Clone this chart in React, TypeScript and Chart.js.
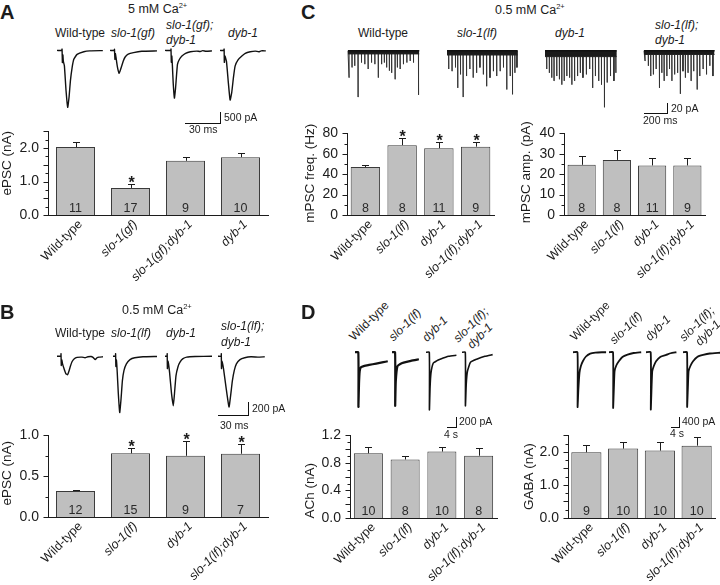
import React, { useEffect, useRef } from "react";
import { Chart, registerables } from "chart.js";

Chart.register(...registerables);

const FONT = "'Liberation Sans', Arial, Helvetica, sans-serif";
const INK = "#1c1c1c";
const BAR_FILL = "#bfbfbf";
const BAR_EDGE = "#3a3a3a";

// ---------------- bar data ----------------
const gfCategories = ["Wild-type", "slo-1(gf)", "slo-1(gf);dyb-1", "dyb-1"];
const lfCategories = ["Wild-type", "slo-1(lf)", "dyb-1", "slo-1(lf);dyb-1"];

const aEpscNa = [2.03, 0.81, 1.62, 1.73];
const aEpscSem = [0.14, 0.13, 0.11, 0.11];
const aN = [11, 17, 9, 10];
const aSig = [false, true, false, false];
const aYTicks = [0, 0.5, 1.0, 1.5, 2.0, 2.5];

const bEpscNa = [0.32, 0.78, 0.75, 0.775];
const bEpscSem = [0.012, 0.07, 0.18, 0.115];
const bN = [12, 15, 9, 7];
const bSig = [false, true, true, true];
const bYTicks = [0, 0.5, 1.0];

const cFreqHz = [47, 68.5, 65.5, 67];
const cFreqSem = [2.2, 7, 6.5, 4.5];
const cFreqSig = [false, true, true, true];
const cFreqTicks = [0, 20, 40, 60, 80];
const cAmpPa = [24.6, 27, 24.3, 24.3];
const cAmpSem = [4.4, 4.7, 3.5, 3.7];
const cAmpSig = [false, false, false, false];
const cAmpTicks = [0, 10, 20, 30, 40];
const cN = [8, 8, 11, 9];

const dAchNa = [0.94, 0.85, 0.965, 0.905];
const dAchSem = [0.095, 0.045, 0.065, 0.105];
const dAchN = [10, 8, 10, 8];
const dAchTicks = [0, 0.2, 0.4, 0.6, 0.8, 1.0, 1.2];
const dGabaNa = [1.99, 2.1, 2.04, 2.19];
const dGabaSem = [0.22, 0.21, 0.26, 0.25];
const dGabaN = [9, 10, 10, 10];
const dGabaTicks = [0, 0.5, 1.0, 1.5, 2.0, 2.5];
const noSig = [false, false, false, false];

// ---------------- trace data: [time, current] ----------------
// A: ms, pA
const aTraceWT: [number, number][] = [[0, 0], [4, 0], [4.3, 60], [4.6, -550], [5.0, -200], [5.4, -500], [6.3, -700], [7.7, -1830], [9.1, -2580], [10.3, -2100], [11.4, -1380], [12.8, -800], [14.3, -405], [17.1, -180], [22.8, -60], [28, -20], [39, -10]];
const aTraceGF: [number, number][] = [[0, 0], [3.5, 0], [3.8, 50], [4.2, -400], [4.6, -150], [5.2, -350], [6.3, -750], [7.7, -1035], [8.8, -900], [10, -700], [11.3, -480], [12.9, -300], [15.5, -170], [20, -100], [27, -40], [40, -20]];
const aTraceGFdyb: [number, number][] = [[0, 0], [4.9, 0], [5.1, 60], [5.4, -540], [5.8, -250], [6.3, -700], [7.0, -1500], [8.0, -2160], [9.0, -1700], [10.6, -630], [12.3, -400], [14.4, -255], [17.5, -130], [21.6, -60], [27, -30], [30, -50], [32, -10], [35, -40], [40, -20]];
const aTraceDyb: [number, number][] = [[0, 0], [3.2, 0], [3.5, 60], [3.7, -540], [4.2, -250], [5.5, -500], [7.0, -1400], [8.6, -2250], [10, -1900], [11.5, -1200], [12.9, -700], [15.5, -420], [18.6, -255], [21.5, -130], [25.7, -60], [30, -30], [33, -60], [35, -20], [39, -20]];

// B: ms, pA
const bTraceWT: [number, number][] = [[0, 0], [3.8, 0], [4.0, 40], [4.3, -150], [4.8, -60], [5.5, -120], [7, -200], [8.8, -280], [10.6, -300], [12, -240], [13.3, -167], [15, -90], [17.3, -42], [20, -20], [25, -15], [28, -25], [31, -10], [34, -5], [36, -20], [38.3, -55], [40, -25], [42, -15], [46, -10]];
const bTraceLF: [number, number][] = [[0, 0], [2.4, 0], [2.6, 40], [2.9, -167], [3.4, -60], [4.2, -250], [5.3, -600], [6.7, -910], [8, -700], [9.4, -395], [11, -230], [13.4, -124], [17, -55], [21.7, -26], [30, -10], [44, -5]];
const bTraceDyb: [number, number][] = [[0, 0], [2.0, 0], [2.2, 40], [2.4, -200], [3.0, -80], [4.5, -250], [6.5, -600], [8.3, -800], [9.5, -600], [11, -314], [13, -170], [15, -96], [18, -40], [21.7, -15], [30, -5], [47, 0]];
const bTraceLFdyb: [number, number][] = [[0, 0], [3.1, 0], [3.3, 40], [3.5, -200], [4.1, -80], [5.5, -200], [8, -500], [11, -820], [12.6, -640], [14.4, -395], [16.3, -230], [18.4, -124], [22, -55], [26.7, -26], [33, -10], [40, -15], [46.7, -10]];

// C: minis, event time (ms) and amplitude (pA)
const cWTTimes = [9, 35, 59, 88, 118, 147, 176, 206, 235, 265, 294, 318, 338, 362, 382, 412, 432, 456, 485, 515, 544, 573, 617];
const cWTAmps = [50, 31, 28, 86, 22, 25, 34, 22, 25, 50, 25, 22, 31, 37, 41, 53, 31, 34, 25, 22, 19, 22, 82];
const cLFTimes = [15, 44, 74, 94, 118, 141, 171, 200, 229, 259, 288, 318, 347, 376, 406, 435, 465, 494, 523, 553, 573, 594, 612];
const cLFAmps = [34, 38, 31, 69, 44, 86, 47, 34, 50, 41, 31, 44, 66, 50, 38, 47, 38, 31, 72, 47, 81, 41, 31];
const cDybTimes = [15, 38, 59, 79, 103, 126, 147, 168, 191, 215, 235, 259, 285, 309, 332, 362, 391, 417, 441, 470, 494, 520, 544, 573, 603, 620];
const cDybAmps = [34, 41, 50, 56, 47, 53, 63, 56, 47, 50, 63, 56, 47, 41, 50, 44, 34, 69, 47, 56, 63, 105, 59, 47, 56, 41];
const cLFdybTimes = [9, 38, 59, 82, 106, 135, 156, 176, 200, 223, 244, 268, 294, 318, 341, 362, 385, 412, 435, 465, 488, 517, 547, 576, 603];
const cLFdybAmps = [19, 28, 47, 44, 34, 69, 41, 56, 47, 34, 56, 44, 41, 80, 38, 50, 41, 56, 38, 72, 47, 34, 44, 28, 47];
const cTraceLengthMs = [623, 617, 626, 617];
const cNoiseBandPa = [6, 8, 11, 7];

// D: s, pA
const dAchWT: [number, number][] = [[0, 0], [1.4, 0], [1.45, -1210], [1.7, -700], [2.0, -420], [2.5, -330], [4, -300], [6, -280], [9, -250], [12, -220], [13.9, -200]];
const dAchLF: [number, number][] = [[0, 0], [1.3, 0], [1.35, -1185], [1.6, -650], [2.3, -311], [3.5, -260], [4.9, -230], [8, -190], [11.4, -155]];
const dAchDyb: [number, number][] = [[0, 0], [1.4, 0], [1.45, -1273], [1.7, -800], [2.1, -460], [3.1, -237], [4.5, -190], [6, -155], [9.6, -89], [12.9, -67]];
const dAchLFdyb: [number, number][] = [[0, 0], [1.4, 0], [1.45, -1185], [1.8, -700], [2.3, -420], [3.6, -222], [6.2, -155], [9.7, -89], [13, -52]];
const dGabaWT: [number, number][] = [[0, 0], [2.0, 0], [2.05, -2190], [2.4, -1500], [2.9, -827], [3.5, -560], [4.4, -360], [5.8, -170], [7.7, -53], [10, -15], [12.9, 0], [14.8, 0]];
const dGabaLF: [number, number][] = [[0, 0], [1.8, 0], [1.85, -2227], [2.2, -1400], [2.5, -760], [3.3, -520], [4.4, -360], [6, -190], [8.3, -93], [11, -30], [14.4, 0]];
const dGabaDyb: [number, number][] = [[0, 0], [2.1, 0], [2.15, -2293], [2.5, -1400], [2.8, -760], [3.5, -550], [4.5, -360], [6.5, -180], [9, -107], [11, -40], [13.6, 0]];
const dGabaLFdyb: [number, number][] = [[0, 0], [1.8, 0], [1.85, -2187], [2.2, -1400], [2.5, -760], [3.3, -550], [4.5, -360], [6.5, -180], [9, -107], [12, -50], [16.6, -20]];

// ---------------- components ----------------
const AXW = 48, PADT = 14, PADR = 10, XAH = 82;

type BarProps = {
  left: number; top: number; width: number; height: number;
  categories: string[]; values: number[]; sem: number[]; n: number[]; sig: boolean[];
  yTicks: number[]; decimals: number; yTitle: string; titleDx: number; titleDy: number; barPct: number;
};

function BarChart(p: BarProps) {
  const ref = useRef<HTMLCanvasElement>(null);
  useEffect(() => {
    const canvas = ref.current!;
    const yMax = p.yTicks[p.yTicks.length - 1];
    const overlay = {
      id: "overlay",
      afterDatasetsDraw(chart: any) {
        const ctx = chart.ctx;
        const ys = chart.scales.y;
        const meta = chart.getDatasetMeta(0);
        ctx.save();
        ctx.strokeStyle = INK;
        ctx.fillStyle = INK;
        ctx.lineWidth = 1;
        meta.data.forEach((bar: any, i: number) => {
          const x = Math.round(bar.x) + 0.5;
          const yTop = ys.getPixelForValue(p.values[i]);
          const yCap = Math.round(ys.getPixelForValue(p.values[i] + p.sem[i])) + 0.5;
          ctx.beginPath();
          ctx.moveTo(x, yTop);
          ctx.lineTo(x, yCap);
          ctx.moveTo(x - 3.5, yCap);
          ctx.lineTo(x + 3.5, yCap);
          ctx.stroke();
          if (p.sig[i]) {
            ctx.font = `bold 16px ${FONT}`;
            ctx.textAlign = "center";
            ctx.textBaseline = "alphabetic";
            ctx.fillText("*", x, yCap + 3);
          }
          ctx.font = `12.5px ${FONT}`;
          ctx.textAlign = "center";
          ctx.textBaseline = "middle";
          ctx.fillStyle = "#2a2a2a";
          ctx.fillText(String(p.n[i]), bar.x, ys.getPixelForValue(0) - 6.5);
          ctx.fillStyle = INK;
        });
        ctx.restore();
      },
      afterDraw(chart: any) {
        const ctx = chart.ctx;
        const ys = chart.scales.y;
        const area = chart.chartArea;
        ctx.save();
        ctx.strokeStyle = INK;
        ctx.lineWidth = 1;
        const xl = Math.round(area.left) + 0.5;
        p.yTicks.forEach((v, k) => {
          const y = Math.round(ys.getPixelForValue(v)) + 0.5;
          ctx.beginPath();
          ctx.moveTo(xl - 5, y);
          ctx.lineTo(xl, y);
          ctx.stroke();
          if (k < p.yTicks.length - 1) {
            const m = Math.round(ys.getPixelForValue((v + p.yTicks[k + 1]) / 2)) + 0.5;
            ctx.beginPath();
            ctx.moveTo(xl - 3, m);
            ctx.lineTo(xl, m);
            ctx.stroke();
          }
        });
        ctx.translate(area.left - p.titleDx, (area.top + area.bottom) / 2 + p.titleDy);
        ctx.rotate(-Math.PI / 2);
        ctx.font = `13.5px ${FONT}`;
        ctx.fillStyle = INK;
        ctx.textAlign = "center";
        ctx.textBaseline = "middle";
        ctx.fillText(p.yTitle, 0, 0);
        ctx.restore();
      },
    };
    const chart = new Chart(canvas, {
      type: "bar",
      data: {
        labels: p.categories,
        datasets: [
          {
            data: p.values,
            backgroundColor: BAR_FILL,
            borderColor: BAR_EDGE,
            borderWidth: 1,
            borderSkipped: "bottom",
            categoryPercentage: 1,
            barPercentage: p.barPct,
          },
        ],
      },
      options: {
        responsive: false,
        animation: false,
        devicePixelRatio: 1,
        layout: { padding: { top: PADT, right: PADR, left: 0, bottom: 0 } },
        plugins: { legend: { display: false }, tooltip: { enabled: false } },
        scales: {
          x: {
            type: "category",
            offset: true,
            grid: { display: false, drawTicks: false },
            border: { display: true, color: INK, width: 1 },
            ticks: {
              color: INK,
              padding: 2,
              labelOffset: 5,
              minRotation: 45,
              maxRotation: 45,
              autoSkip: false,
              font: (c: any) => ({ family: FONT, size: 12.5, style: c.index === 0 ? "normal" : "italic" }),
            },
            afterFit: (s: any) => {
              s.height = XAH;
            },
          },
          y: {
            min: 0,
            max: yMax,
            grid: { display: false, drawTicks: false },
            border: { display: true, color: INK, width: 1 },
            afterBuildTicks: (s: any) => {
              s.ticks = p.yTicks.map((v) => ({ value: v }));
            },
            ticks: {
              color: INK,
              padding: 9,
              font: { family: FONT, size: 14 },
              callback: (v: any) => Number(v).toFixed(p.decimals),
            },
            afterFit: (s: any) => {
              s.width = AXW;
            },
          },
        },
      } as any,
      plugins: [overlay],
    });
    return () => chart.destroy();
  }, []);
  const w = AXW + p.width + PADR;
  const h = PADT + p.height + XAH;
  return (
    <canvas
      ref={ref}
      width={Math.round(w)}
      height={Math.round(h)}
      style={{ position: "absolute", left: p.left - AXW, top: p.top - PADT, width: Math.round(w), height: Math.round(h) }}
    />
  );
}

type TraceProps = {
  left: number; baseY: number; pxX: number; pxY: number; xMax: number; yMin: number; yMax: number; datasets: any[];
};

function Trace(p: TraceProps) {
  const ref = useRef<HTMLCanvasElement>(null);
  const M = 3;
  const w = Math.round(p.xMax * p.pxX + 2 * M);
  const h = Math.round((p.yMax - p.yMin) * p.pxY + 2 * M);
  useEffect(() => {
    const chart = new Chart(ref.current!, {
      type: "line",
      data: { datasets: p.datasets },
      options: {
        responsive: false,
        animation: false,
        devicePixelRatio: 1,
        layout: { padding: M },
        plugins: { legend: { display: false }, tooltip: { enabled: false } },
        elements: { point: { radius: 0 } },
        scales: {
          x: { type: "linear", display: false, min: 0, max: p.xMax },
          y: { type: "linear", display: false, min: p.yMin, max: p.yMax },
        },
      } as any,
    });
    return () => chart.destroy();
  }, []);
  return (
    <canvas
      ref={ref}
      width={w}
      height={h}
      style={{ position: "absolute", left: p.left - M, top: p.baseY - p.yMax * p.pxY - M, width: w, height: h }}
    />
  );
}

function lineSet(pts: [number, number][], width = 1.4) {
  return {
    data: pts.map(([x, y]) => ({ x, y })),
    borderColor: "#111",
    borderWidth: width,
    pointRadius: 0,
    tension: 0.15,
    fill: false,
    clip: false,
  };
}

function miniSets(times: number[], amps: number[], length: number, band: number) {
  const pts: { x: number; y: number }[] = [{ x: 0, y: 0 }];
  times.forEach((t, i) => {
    pts.push({ x: t - 0.8, y: 0 }, { x: t, y: -amps[i] }, { x: t + 0.8, y: 0 });
  });
  pts.push({ x: length, y: 0 });
  return [
    { data: [{ x: 0, y: 0 }, { x: length, y: 0 }], borderColor: "#111", borderWidth: 1.5, pointRadius: 0, fill: false, clip: false },
    { data: [{ x: 0, y: -band }, { x: length, y: -band }], borderColor: "#222", borderWidth: 1, pointRadius: 0, fill: "-1", backgroundColor: "#1a1a1a", clip: false },
    { data: pts, borderColor: "#333", borderWidth: 1, pointRadius: 0, tension: 0, fill: false, clip: false },
  ];
}

function Txt(props: { x: number; cy: number; size?: number; italic?: boolean; bold?: boolean; children: any }) {
  const size = props.size ?? 12;
  return (
    <div
      style={{
        position: "absolute",
        left: props.x,
        top: props.cy - size * 0.6,
        fontSize: size,
        lineHeight: `${size * 1.2}px`,
        fontStyle: props.italic ? "italic" : "normal",
        fontWeight: props.bold ? "bold" : "normal",
        whiteSpace: "nowrap",
      }}
    >
      {props.children}
    </div>
  );
}

function RotTxt(props: { cx: number; cy: number; size?: number; italic?: boolean; children: any }) {
  const size = props.size ?? 12;
  return (
    <div style={{ position: "absolute", left: props.cx, top: props.cy, width: 0, height: 0 }}>
      <div
        style={{
          position: "absolute",
          left: 0,
          top: 0,
          transform: "translate(-50%,-50%) rotate(-45deg)",
          whiteSpace: "nowrap",
          fontSize: size,
          lineHeight: `${size * 1.2}px`,
          fontStyle: props.italic ? "italic" : "normal",
        }}
      >
        {props.children}
      </div>
    </div>
  );
}

function ScaleBar(props: { x1: number; x2: number; y1: number; y2: number }) {
  return (
    <div
      style={{
        position: "absolute",
        left: props.x1,
        top: props.y1,
        width: props.x2 - props.x1,
        height: props.y2 - props.y1,
        borderRight: "1px solid #111",
        borderBottom: "1px solid #111",
      }}
    />
  );
}

function Ca(props: { x: number; cy: number; conc: string }) {
  return (
    <Txt x={props.x} cy={props.cy} size={12.5}>
      {props.conc} mM Ca
      <span style={{ fontSize: 7.5, position: "relative", top: -5 }}>2+</span>
    </Txt>
  );
}

export default function App() {
  const A = { pxX: 35 / 30, pxY: 11 / 500, yMin: -2700, yMax: 200, baseY: 50, xMax: 40 };
  const B = { pxX: 1.0, pxY: 12.3 / 200, yMin: -950, yMax: 100, baseY: 355.7, xMax: 47 };
  const C = { pxX: 22.7 / 200, pxY: 10.7 / 20, yMin: -110, yMax: 5, baseY: 50.7, xMax: 630 };
  const DL = { pxX: 9.3 / 4, pxY: 9 / 200, yMin: -1300, yMax: 50, baseY: 352.7, xMax: 14 };
  const DR = { pxX: 2.25, pxY: 10 / 400, yMin: -2350, yMax: 50, baseY: 352.7, xMax: 17 };
  const cTimes = [cWTTimes, cLFTimes, cDybTimes, cLFdybTimes];
  const cAmps = [cWTAmps, cLFAmps, cDybAmps, cLFdybAmps];
  const cLefts = [348.3, 446.7, 545, 644];

  return (
    <div
      style={{
        position: "absolute",
        left: 0,
        top: 0,
        width: 720,
        height: 585,
        overflow: "hidden",
        background: "#fff",
        fontFamily: FONT,
        color: INK,
      }}
    >
      {/* ---------- Panel A ---------- */}
      <Txt x={0} cy={11.5} size={20} bold>A</Txt>
      <Ca x={128} cy={9} conc="5" />
      <Txt x={55} cy={33}>Wild-type</Txt>
      <Txt x={111} cy={33} italic>slo-1(gf)</Txt>
      <Txt x={166} cy={25} italic>slo-1(gf);</Txt>
      <Txt x={166} cy={40} italic>dyb-1</Txt>
      <Txt x={228} cy={33} italic>dyb-1</Txt>
      <Trace left={56.7} {...A} datasets={[lineSet(aTraceWT)]} />
      <Trace left={110} {...A} datasets={[lineSet(aTraceGF)]} />
      <Trace left={165} {...A} datasets={[lineSet(aTraceGFdyb)]} />
      <Trace left={220} {...A} datasets={[lineSet(aTraceDyb)]} />
      <ScaleBar x1={185} x2={220} y1={111.7} y2={122.7} />
      <Txt x={224} cy={117} size={10.5}>500 pA</Txt>
      <Txt x={189} cy={129} size={10.5}>30 ms</Txt>
      <BarChart left={48} top={127.7} width={220} height={87.3} categories={gfCategories} values={aEpscNa} sem={aEpscSem} n={aN} sig={aSig} yTicks={aYTicks} decimals={1} yTitle="ePSC (nA)" titleDx={40.5} titleDy={-10} barPct={0.71} />

      {/* ---------- Panel B ---------- */}
      <Txt x={0} cy={311.5} size={20} bold>B</Txt>
      <Ca x={122} cy={310} conc="0.5" />
      <Txt x={55} cy={333}>Wild-type</Txt>
      <Txt x={111} cy={333} italic>slo-1(lf)</Txt>
      <Txt x={166} cy={333} italic>dyb-1</Txt>
      <Txt x={221} cy={326} italic>slo-1(lf);</Txt>
      <Txt x={221} cy={342} italic>dyb-1</Txt>
      <Trace left={56.7} {...B} datasets={[lineSet(bTraceWT)]} />
      <Trace left={113.3} {...B} datasets={[lineSet(bTraceLF)]} />
      <Trace left={165} {...B} datasets={[lineSet(bTraceDyb)]} />
      <Trace left={218.3} {...B} datasets={[lineSet(bTraceLFdyb)]} />
      <ScaleBar x1={218.3} x2={248.3} y1={402} y2={415} />
      <Txt x={252} cy={408.5} size={10.5}>200 pA</Txt>
      <Txt x={220} cy={425} size={10.5}>30 ms</Txt>
      <BarChart left={48} top={432} width={220} height={85.3} categories={lfCategories} values={bEpscNa} sem={bEpscSem} n={bN} sig={bSig} yTicks={bYTicks} decimals={1} yTitle="ePSC (nA)" titleDx={40.5} titleDy={-3} barPct={0.71} />

      {/* ---------- Panel C ---------- */}
      <Txt x={301} cy={11.5} size={20} bold>C</Txt>
      <Ca x={495} cy={10} conc="0.5" />
      <Txt x={358} cy={33}>Wild-type</Txt>
      <Txt x={457} cy={33} italic>slo-1(lf)</Txt>
      <Txt x={555} cy={33} italic>dyb-1</Txt>
      <Txt x={655} cy={25} italic>slo-1(lf);</Txt>
      <Txt x={655} cy={40} italic>dyb-1</Txt>
      {cLefts.map((l, i) => (
        <Trace key={i} left={l} {...C} datasets={miniSets(cTimes[i], cAmps[i], cTraceLengthMs[i], cNoiseBandPa[i])} />
      ))}
      <ScaleBar x1={644} x2={666.7} y1={102.7} y2={113.3} />
      <Txt x={671} cy={108} size={10.5}>20 pA</Txt>
      <Txt x={643} cy={120} size={10.5}>200 ms</Txt>
      <BarChart left={346.7} top={130} width={146.8} height={85} categories={lfCategories} values={cFreqHz} sem={cFreqSem} n={cN} sig={cFreqSig} yTicks={cFreqTicks} decimals={0} yTitle="mPSC freq. (Hz)" titleDx={36.7} titleDy={-1} barPct={0.8} />
      <BarChart left={564} top={130} width={141} height={85} categories={lfCategories} values={cAmpPa} sem={cAmpSem} n={cN} sig={cAmpSig} yTicks={cAmpTicks} decimals={0} yTitle="mPSC amp. (pA)" titleDx={37.3} titleDy={-2} barPct={0.8} />

      {/* ---------- Panel D ---------- */}
      <Txt x={301} cy={311.5} size={20} bold>D</Txt>
      <RotTxt cx={369} cy={320.5}>Wild-type</RotTxt>
      <RotTxt cx={405} cy={325} italic>slo-1(lf)</RotTxt>
      <RotTxt cx={435} cy={328.5} italic>dyb-1</RotTxt>
      <RotTxt cx={470.5} cy={325} italic>slo-1(lf);</RotTxt>
      <RotTxt cx={479.5} cy={336} italic>dyb-1</RotTxt>
      <RotTxt cx={590} cy={320.5}>Wild-type</RotTxt>
      <RotTxt cx={626} cy={327.5} italic>slo-1(lf)</RotTxt>
      <RotTxt cx={657.5} cy={327.5} italic>dyb-1</RotTxt>
      <RotTxt cx={696.5} cy={324} italic>slo-1(lf);</RotTxt>
      <RotTxt cx={707.5} cy={332.5} italic>dyb-1</RotTxt>
      <Trace left={355} {...DL} datasets={[lineSet(dAchWT, 2.2)]} />
      <Trace left={392} {...DL} datasets={[lineSet(dAchLF, 2.2)]} />
      <Trace left={426} {...DL} datasets={[lineSet(dAchDyb, 1.6)]} />
      <Trace left={462.3} {...DL} datasets={[lineSet(dAchLFdyb, 1.6)]} />
      <Trace left={572.7} {...DR} datasets={[lineSet(dGabaWT, 1.8)]} />
      <Trace left={609.3} {...DR} datasets={[lineSet(dGabaLF, 1.8)]} />
      <Trace left={646} {...DR} datasets={[lineSet(dGabaDyb, 1.8)]} />
      <Trace left={682.7} {...DR} datasets={[lineSet(dGabaLFdyb, 1.8)]} />
      <ScaleBar x1={447} x2={456} y1={417} y2={427} />
      <Txt x={459} cy={421} size={10.5}>200 pA</Txt>
      <Txt x={444} cy={434} size={10.5}>4 s</Txt>
      <ScaleBar x1={671} x2={679} y1={417} y2={427} />
      <Txt x={682} cy={421.5} size={10.5}>400 pA</Txt>
      <Txt x={670} cy={433} size={10.5}>4 s</Txt>
      <BarChart left={349.5} top={431.7} width={146.8} height={85.6} categories={lfCategories} values={dAchNa} sem={dAchSem} n={dAchN} sig={noSig} yTicks={dAchTicks} decimals={1} yTitle="ACh (nA)" titleDx={39.5} titleDy={14} barPct={0.79} />
      <BarChart left={568} top={431.7} width={147} height={85.6} categories={lfCategories} values={dGabaNa} sem={dGabaSem} n={dGabaN} sig={noSig} yTicks={dGabaTicks} decimals={1} yTitle="GABA (nA)" titleDx={39} titleDy={0} barPct={0.82} />
    </div>
  );
}
